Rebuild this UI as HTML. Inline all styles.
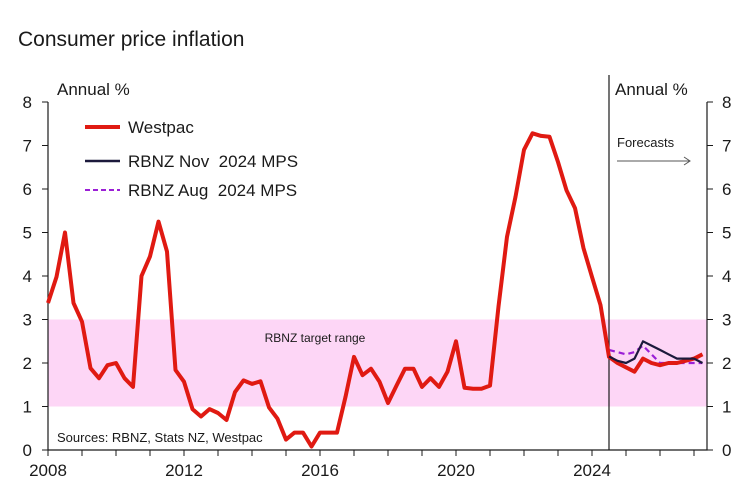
<!DOCTYPE html>
<html><head><meta charset="utf-8"><style>
body{margin:0;background:#fff;}
svg text{font-family:"Liberation Sans",sans-serif;fill:#1a1a1a;white-space:pre;}
</style></head><body>
<svg width="756" height="498" viewBox="0 0 756 498">
<text x="18" y="46" font-size="21">Consumer price inflation</text>
<g id="plot"></g>
</svg>
<script>
const years = [2008, 2012, 2016, 2020, 2024];
const yTicks = [0,1,2,3,4,5,6,7,8];
const westpacStart = 2008.0;
const westpac = [3.38,3.98,5.0,3.38, 2.95,1.88,1.65,1.95, 2.0,1.65,1.45,4.0, 4.45,5.25,4.56,1.84,
 1.57,0.94,0.77,0.94, 0.85,0.69,1.33,1.6, 1.52,1.58,0.98,0.72, 0.24,0.4,0.4,0.08,
 0.4,0.4,0.4,1.22, 2.14,1.72,1.87,1.57, 1.08,1.48,1.87,1.87, 1.45,1.65,1.45,1.8,
 2.5,1.43,1.41,1.41, 1.48,3.3,4.9,5.82, 6.9,7.28,7.22,7.2, 6.62,5.97,5.56,4.64,
 3.98,3.33,2.14,2.0, 1.9,1.8,2.1,2.0, 1.95,2.0,2.0,2.05, 2.1,2.2];
const forecastStart = 2024.5;
const rbnzNov = [2.15,2.05,2.0,2.1,2.5,2.4,2.3,2.2,2.1,2.1,2.1,2.0];
const rbnzAug = [2.3,2.25,2.2,2.25,2.4,2.2,2.0,2.0,2.0,2.0,2.0,2.0];
const targetBand = [1,3];
const forecastLine = 2024.5;

const NS='http://www.w3.org/2000/svg';
const g=document.getElementById('plot');
const X0=48,X1=707,Y0=450,YT=102;
const xs=t=>X0+(t-2008)*34;
const ys=v=>Y0-(v/8)*(Y0-YT);
function mk(tag,attrs,parent){const e=document.createElementNS(NS,tag);for(const k in attrs)e.setAttribute(k,attrs[k]);(parent||g).appendChild(e);return e;}

let band=mk('rect',{x:X0,y:ys(targetBand[1]),width:X1-X0,height:ys(targetBand[0])-ys(targetBand[1]),fill:'#fdd6f6'});


let bt=mk('text',{x:315,y:342,'font-size':12,'text-anchor':'middle'});bt.textContent='RBNZ target range';



let ax=mk('path',{d:`M${X0},${YT}V${Y0}H${X1}V${YT}`,stroke:'#1a1a1a','stroke-width':1.2,fill:'none'});


yTicks.forEach(v=>{
 mk('line',{x1:X0-6,x2:X0,y1:ys(v),y2:ys(v),stroke:'#1a1a1a'});
 mk('line',{x1:X1,x2:X1+6,y1:ys(v),y2:ys(v),stroke:'#1a1a1a'});
 let l=mk('text',{x:32,y:ys(v)+6,'font-size':17,'text-anchor':'end'});l.textContent=v;
 
 
 let r=mk('text',{x:722,y:ys(v)+6,'font-size':17});r.textContent=v;
 
 
});
for(let yr=2008;yr<=2027;yr++){mk('line',{x1:xs(yr),x2:xs(yr),y1:Y0,y2:Y0+6,stroke:'#1a1a1a'});}
years.forEach(yr=>{let t=mk('text',{x:xs(yr),y:476,'font-size':17,'text-anchor':'middle'});t.textContent=yr;
 
 });
let vl=mk('line',{x1:xs(forecastLine),x2:xs(forecastLine),y1:75,y2:Y0,stroke:'#1a1a1a','stroke-width':1.2});



let a1=mk('text',{x:57,y:95,'font-size':17});a1.textContent='Annual %';


let a2=mk('text',{x:615,y:95,'font-size':17});a2.textContent='Annual %';


let fc=mk('text',{x:617,y:147,'font-size':13});fc.textContent='Forecasts';


let ar=mk('path',{d:'M617,161H690M684,157L690,161L684,165',stroke:'#555','stroke-width':1,fill:'none'});


let src=mk('text',{x:57,y:442,'font-size':13});src.textContent='Sources: RBNZ, Stats NZ, Westpac';



function series(arr,start,attrs,name){
 const d=arr.map((v,i)=>(i?'L':'M')+xs(start+i*0.25).toFixed(1)+','+ys(v).toFixed(1)).join('');
 const p=mk('path',Object.assign({d,fill:'none','stroke-linejoin':'round'},attrs));
 
 
}
series(rbnzAug,forecastStart,{stroke:'#9b1fd6','stroke-width':2.2,'stroke-dasharray':'6,4'},'rbnz-aug-line');
series(westpac,westpacStart,{stroke:'#e01a12','stroke-width':4},'westpac-line');
series(rbnzNov,forecastStart,{stroke:'#1c1a3c','stroke-width':2.2},'rbnz-nov-line');

const leg=[['Westpac','#e01a12',4,null,127],['RBNZ Nov  2024 MPS','#1c1a3c',2.5,null,161],['RBNZ Aug  2024 MPS','#9b1fd6',2,'5,3',190]];
leg.forEach(([t,c,w,da,y])=>{
 const ln=mk('line',{x1:85,x2:120,y1:y,y2:y,stroke:c,'stroke-width':w});
 if(da)ln.setAttribute('stroke-dasharray',da);
 
 
 const tx=mk('text',{x:128,y:y+6,'font-size':17});tx.textContent=t;
 
 
});
</script>
</body></html>
